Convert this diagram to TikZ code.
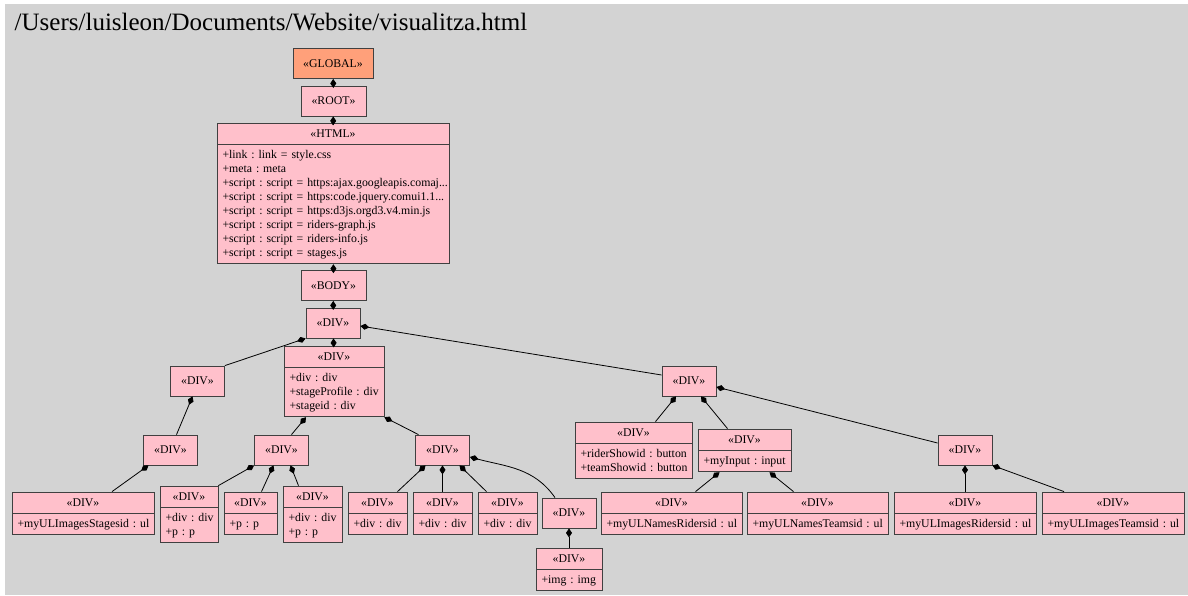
\documentclass[tikz,border=0pt]{standalone}
\usepackage{fontspec}
\setmainfont{Liberation Serif}
\usetikzlibrary{positioning,arrows.meta}

\definecolor{bggray}{HTML}{D3D3D3}
\definecolor{globalfill}{HTML}{FFA07A}
\definecolor{divfill}{HTML}{FFC0CB}
\frenchspacing
\newcommand\attrlist[1]{\begin{tabular}{@{}l@{}}#1\end{tabular}}

\begin{document}
\begin{tikzpicture}[x=1pt,y=-1pt,line width=0.8pt,
    box/.style={draw=black!75,fill=divfill,inner sep=0pt,font=\fontsize{11.8}{14}\selectfont},
    tag node/.style={box,minimum width=#1,minimum height=30pt},
    head node/.style={box,minimum width=#1,minimum height=21pt},
    attr node/.style={box,minimum width=#1,text width=#1-11pt,align=left,inner xsep=5.5pt,inner ysep=3.5pt},
    comp/.style={{Diamond[length=9pt,width=6pt]}-}]

    \useasboundingbox (0,0) rectangle (1188,595);
    \fill[bggray] (5,4) rectangle (1188,595);

    \node (title) [anchor=base west,font=\fontsize{25}{30}\selectfont] at (11,30) {/Users/luisleon/Documents/Website/visualitza.html};

    \node (1) [tag node=80pt,fill=globalfill] at (333,63.5) {«GLOBAL»};
    \node (2) [tag node=65pt] at (333.5,101) {«ROOT»};
    \node (3) [head node=232pt] at (333,133.5) {«HTML»};
    \node (3a) [attr node=232pt,below=0pt of 3] {\attrlist{+link : link = style.css\\+meta : meta\\
        +script : script = https:ajax.googleapis.comaj...\\+script : script = https:code.jquery.comui1.1...\\
        +script : script = https:d3js.orgd3.v4.min.js\\+script : script = riders-graph.js\\
        +script : script = riders-info.js\\+script : script = stages.js}};
    \node (4) [tag node=65pt] at (333.5,285.5) {«BODY»};
    \node (5) [tag node=54pt] at (333,323) {«DIV»};

    % left branch
    \node (6) [head node=100pt] at (334,356.5) {«DIV»};
    \node (6a) [attr node=100pt,below=0pt of 6] {\attrlist{+div : div\\+stageProfile : div\\+stageid : div}};
    \node (7) [tag node=54pt] at (197.5,381) {«DIV»};
    \node (8) [tag node=54pt] at (170.5,450) {«DIV»};
    \node (9) [head node=142pt] at (83,502.5) {«DIV»};
    \node (9a) [attr node=142pt,below=0pt of 9] {\attrlist{+myULImagesStagesid : ul}};

    \node (10) [tag node=54pt] at (281.5,450) {«DIV»};
    \node (11) [head node=58pt] at (189,496.5) {«DIV»};
    \node (11a) [attr node=58pt,below=0pt of 11] {\attrlist{+div : div\\+p : p}};
    \node (12) [head node=53pt] at (250.5,502.5) {«DIV»};
    \node (12a) [attr node=53pt,below=0pt of 12] {\attrlist{+p : p}};
    \node (13) [head node=59pt] at (312.5,496.5) {«DIV»};
    \node (13a) [attr node=59pt,below=0pt of 13] {\attrlist{+div : div\\+p : p}};

    \node (14) [tag node=54pt] at (442.5,450) {«DIV»};
    \node (15) [head node=59pt] at (377.5,502.5) {«DIV»};
    \node (15a) [attr node=59pt,below=0pt of 15] {\attrlist{+div : div}};
    \node (16) [head node=59pt] at (442.5,502.5) {«DIV»};
    \node (16a) [attr node=59pt,below=0pt of 16] {\attrlist{+div : div}};
    \node (17) [head node=59pt] at (507.5,502.5) {«DIV»};
    \node (17a) [attr node=59pt,below=0pt of 17] {\attrlist{+div : div}};
    \node (18) [tag node=54pt] at (569,513) {«DIV»};
    \node (19) [head node=66pt] at (569,558.5) {«DIV»};
    \node (19a) [attr node=66pt,below=0pt of 19] {\attrlist{+img : img}};

    % right branch
    \node (20) [tag node=54pt] at (689,381) {«DIV»};
    \node (21) [head node=117pt] at (633.5,432.5) {«DIV»};
    \node (21a) [attr node=117pt,below=0pt of 21] {\attrlist{+riderShowid : button\\+teamShowid : button}};
    \node (22) [head node=93pt] at (744.5,439.5) {«DIV»};
    \node (22a) [attr node=93pt,below=0pt of 22] {\attrlist{+myInput : input}};
    \node (23) [head node=141pt] at (671.5,502.5) {«DIV»};
    \node (23a) [attr node=141pt,below=0pt of 23] {\attrlist{+myULNamesRidersid : ul}};
    \node (24) [head node=141pt] at (817.5,502.5) {«DIV»};
    \node (24a) [attr node=141pt,below=0pt of 24] {\attrlist{+myULNamesTeamsid : ul}};

    \node (25) [tag node=54pt] at (965,450) {«DIV»};
    \node (26) [head node=142pt] at (965,502.5) {«DIV»};
    \node (26a) [attr node=142pt,below=0pt of 26] {\attrlist{+myULImagesRidersid : ul}};
    \node (27) [head node=142pt] at (1113,502.5) {«DIV»};
    \node (27a) [attr node=142pt,below=0pt of 27] {\attrlist{+myULImagesTeamsid : ul}};

    \path[comp]
    (1) edge (2)
    (2) edge (3)
    (3a) edge (4)
    (4) edge (5)

    (5) edge (6)
    (5.south west) edge (7.north east)
    ([yshift=-3pt]5.east) edge ([yshift=6pt]20.west)

    ([xshift=-5pt]7.south) edge ([xshift=6pt]8.north)
    ([xshift=-22pt]8.south) edge ([xshift=29pt]9.north)

    ([xshift=-28pt]6a.south) edge ([xshift=10pt]10.north)
    (6a.south east) edge ([xshift=-24pt]14.north)

    (10.south west) edge (11.north east)
    ([xshift=-8pt]10.south) edge ([xshift=11pt]12.north)
    ([xshift=9pt]10.south) edge ([xshift=-14pt]13.north)

    ([xshift=-17pt]14.south) edge ([xshift=20pt]15.north)
    (14) edge (16)
    ([xshift=17pt]14.south) edge ([xshift=-21pt]17.north)
    ([yshift=-7pt]14.east) edge[out=-15,in=125] ([xshift=-14pt]18.north)
    (18) edge (19)

    ([xshift=-13pt]20.south) edge ([xshift=22pt]21.north)
    ([xshift=12pt]20.south) edge ([xshift=-17pt]22.north)
    ([yshift=-6pt]20.east) edge ([yshift=7pt]25.west)
    ([xshift=-25pt]22a.south) edge ([xshift=24pt]23.north)
    ([xshift=25pt]22a.south) edge ([xshift=-24pt]24.north)

    (25) edge (26)
    (25.south east) edge ([xshift=-49pt]27.north)
    ;
\end{tikzpicture}
\end{document}
